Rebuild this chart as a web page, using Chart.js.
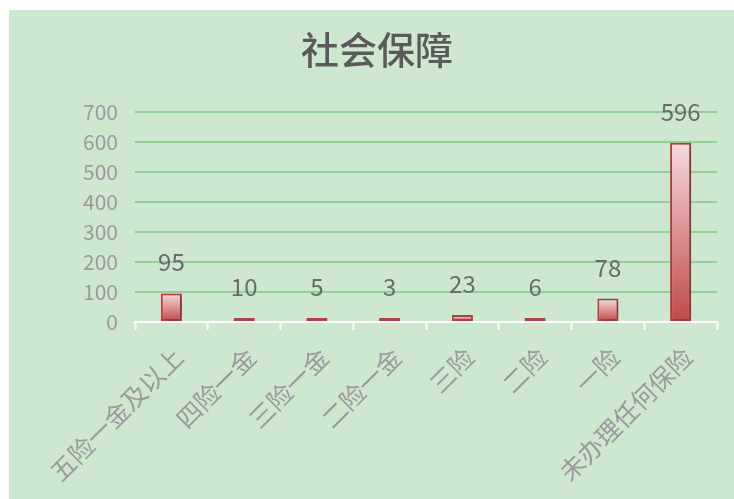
<!DOCTYPE html>
<html>
<head>
<meta charset="utf-8">
<script src="https://cdn.jsdelivr.net/npm/chart.js@4"></script>
<style>
  html, body { margin: 0; padding: 0; background: #ffffff; }
  #wrap { position: absolute; left: 9px; top: 10px; width: 725px; height: 489px; background: #cde8cf; }
</style>
</head>
<body>
<div id="wrap"><canvas id="chart" width="725" height="489"></canvas></div>
<script>
// categories and values
const categories = ['五险一金及以上', '四险一金', '三险一金', '二险一金', '三险', '二险', '一险', '未办理任何保险'];
const counts = [95, 10, 5, 3, 23, 6, 78, 596];
const yTicks = [0, 100, 200, 300, 400, 500, 600, 700];

const CJK = '"Noto Sans CJK SC", "Noto Sans", sans-serif';

// gradient from pale pink at the top of each bar to red at its base
function barGradient(c) {
    const chart = c.chart;
    const y = chart.scales.y;
    if (!chart.chartArea || !y || c.raw === undefined) return '#c0504d';
    const top = Math.min(y.getPixelForValue(c.raw), y.getPixelForValue(0) - 4);
    const base = y.getPixelForValue(0);
    const g = chart.ctx.createLinearGradient(0, top, 0, base);
    g.addColorStop(0, '#f6dadd');
    g.addColorStop(1, '#c0484a');
    return g;
}

const barShadow = {
    id: 'barShadow',
    beforeDatasetsDraw(chart) {
        const ctx = chart.ctx;
        ctx.save();
        ctx.shadowColor = 'rgba(0,0,0,0.25)';
        ctx.shadowBlur = 9;
        ctx.shadowOffsetX = 5;
        ctx.shadowOffsetY = 2;
    },
    afterDatasetsDraw(chart) {
        chart.ctx.restore();
    }
};

const valueLabels = {
    id: 'valueLabels',
    afterDraw(chart) {
        const ctx = chart.ctx;
        const meta = chart.getDatasetMeta(0);
        ctx.save();
        ctx.font = '24px ' + CJK;
        ctx.fillStyle = '#6a6a6a';
        ctx.textAlign = 'center';
        ctx.textBaseline = 'alphabetic';
        meta.data.forEach((bar, i) => {
            ctx.fillText(String(counts[i]), bar.x, bar.y - 22);
        });
        ctx.restore();
    }
};

new Chart(document.getElementById('chart'), {
    type: 'bar',
    data: {
        labels: categories,
        datasets: [{
            data: counts,
            backgroundColor: barGradient,
            borderColor: '#b5403f',
            borderWidth: 2,
            borderSkipped: false,
            minBarLength: 4,
            categoryPercentage: 1,
            barPercentage: 0.29
        }]
    },
    options: {
        responsive: false,
        animation: false,
        events: [],
        layout: { padding: { left: 28, right: 17, top: 0, bottom: 0 } },
        plugins: {
            legend: { display: false },
            tooltip: { enabled: false },
            title: {
                display: true,
                text: '社会保障',
                color: '#5a5a5a',
                font: { family: CJK, size: 38, weight: '500' },
                padding: { top: 17, bottom: 39 }
            }
        },
        scales: {
            x: {
                afterFit: (s) => { s.height = 177; },
                grid: {
                    drawOnChartArea: false,
                    drawTicks: true,
                    tickLength: 8,
                    tickWidth: 2,
                    tickColor: '#ffffff',
                    color: '#ffffff'
                },
                border: { display: true, color: '#ffffff', width: 2 },
                ticks: {
                    minRotation: 45,
                    maxRotation: 45,
                    autoSkip: false,
                    padding: 12,
                    labelOffset: 7,
                    color: '#9a9a9a',
                    font: { family: CJK, size: 25 }
                }
            },
            y: {
                min: 0,
                max: 700,
                afterFit: (s) => { s.width = 98; },
                afterBuildTicks: (s) => { s.ticks = yTicks.map(v => ({ value: v })); },
                grid: {
                    drawTicks: false,
                    lineWidth: 2,
                    color: (c) => c.tick && c.tick.value === 0 ? 'rgba(0,0,0,0)' : '#93d095'
                },
                border: { display: false },
                ticks: {
                    padding: 17,
                    color: '#9a9a9a',
                    font: { family: CJK, size: 21 }
                }
            }
        }
    },
    plugins: [barShadow, valueLabels]
});
</script>
</body>
</html>
